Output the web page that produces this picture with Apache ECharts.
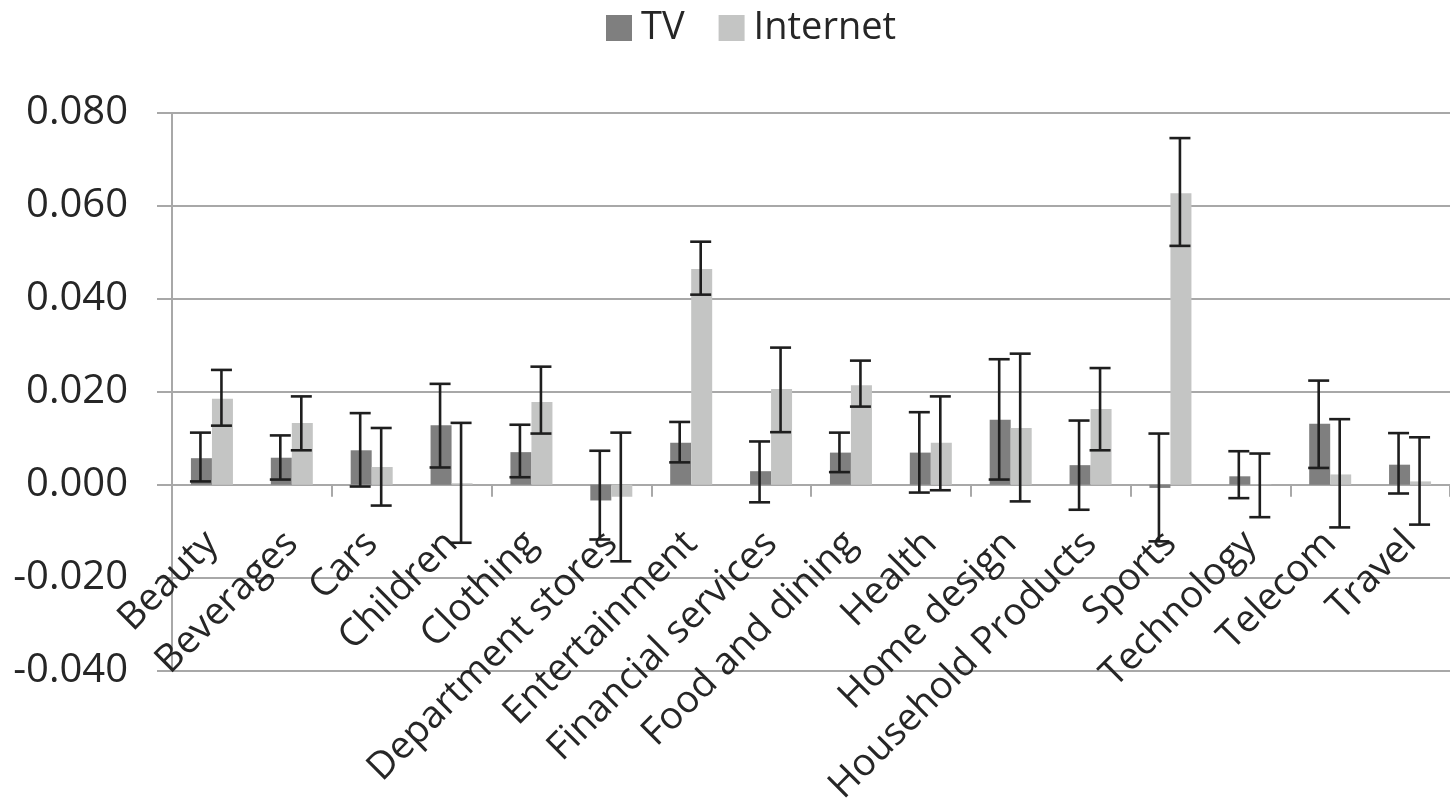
<!DOCTYPE html>
<html>
<head>
<meta charset="utf-8">
<script src="https://cdn.jsdelivr.net/npm/echarts@6/dist/echarts.min.js"></script>
<style>
html,body{margin:0;padding:0;background:#fff;}
#chart{width:1450px;height:801px;}
</style>
</head>
<body>
<div id="chart"></div>
<script>
const categories = ["Beauty","Beverages","Cars","Children","Clothing","Department stores","Entertainment","Financial services","Food and dining","Health","Home design","Household Products","Sports","Technology","Telecom","Travel"];
const tvValues   = [0.0057,0.0058,0.0074,0.0128,0.0070,-0.0034,0.0090,0.0029,0.0069,0.0069,0.0140,0.0042,-0.0007,0.0018,0.0131,0.0043];
const tvHigh     = [0.0112,0.0106,0.0154,0.0217,0.0129,0.0073,0.0135,0.0093,0.0112,0.0156,0.0270,0.0138,0.0110,0.0072,0.0224,0.0111];
const tvLow      = [0.0007,0.0011,-0.0004,0.0037,0.0016,-0.0118,0.0048,-0.0038,0.0027,-0.0017,0.0011,-0.0054,-0.0122,-0.0029,0.0036,-0.0019];
const netValues  = [0.0185,0.0133,0.0038,0.0003,0.0178,-0.0026,0.0464,0.0206,0.0214,0.0090,0.0122,0.0163,0.0627,0.0001,0.0022,0.0007];
const netHigh    = [0.0247,0.0190,0.0122,0.0133,0.0254,0.0112,0.0523,0.0295,0.0267,0.0190,0.0282,0.0251,0.0746,0.0067,0.0141,0.0102];
const netLow     = [0.0127,0.0074,-0.0045,-0.0125,0.0110,-0.0165,0.0409,0.0113,0.0168,-0.0012,-0.0036,0.0074,0.0514,-0.0070,-0.0092,-0.0086];
const yTicks     = {min:-0.04, max:0.08, interval:0.02};

const FONT = "'Open Sans', 'Noto Sans', sans-serif";
const TEXT = '#262626';
const GRIDC = '#a8a8a8';
const BARW = 21;
const GRID = {left: 172, right: 0, top: 113, bottom: 130.5};
const H = 801;

function errSeries(name, high, low, side) {
  return {
    type: 'custom',
    name: name + ' err',
    z: 10,
    silent: true,
    data: categories.map((c, i) => [i, low[i], high[i]]),
    encode: {x: 0, y: [1, 2]},
    renderItem: function (params, api) {
      const i = api.value(0);
      const lo = api.coord([i, api.value(1)]);
      const hi = api.coord([i, api.value(2)]);
      const x = lo[0] + side * BARW / 2 - 1;
      const half = BARW / 2;
      const st = {stroke: '#1e1e1e', lineWidth: 2.6};
      return {
        type: 'group',
        children: [
          {type: 'line', shape: {x1: x, y1: hi[1], x2: x, y2: lo[1]}, style: st},
          {type: 'line', shape: {x1: x - half, y1: hi[1], x2: x + half, y2: hi[1]}, style: st},
          {type: 'line', shape: {x1: x - half, y1: lo[1], x2: x + half, y2: lo[1]}, style: st}
        ]
      };
    }
  };
}

// distance from grid bottom up to the zero line, from the y scale
const plotH = H - GRID.top - GRID.bottom;
const zeroOffset = plotH * (0 - yTicks.min) / (yTicks.max - yTicks.min);

const chart = echarts.init(document.getElementById('chart'), null, {renderer: 'canvas'});
chart.setOption({
  animation: false,
  backgroundColor: '#ffffff',
  textStyle: {fontFamily: FONT},
  legend: {
    left: 601, top: 4,
    itemWidth: 26, itemHeight: 26, itemGap: 34,
    icon: 'rect',
    data: ['TV', 'Internet'],
    textStyle: {fontFamily: FONT, fontSize: 38, color: TEXT, padding: [0, 0, 0, 4]}
  },
  grid: Object.assign({containLabel: false, outerBoundsMode: 'none'}, GRID),
  xAxis: [{
    type: 'category',
    data: categories,
    axisLine: {onZero: true, lineStyle: {color: GRIDC, width: 2}},
    axisTick: {show: true, length: 12, lineStyle: {color: GRIDC, width: 2}},
    axisLabel: {show: false},
    splitLine: {show: false}
  }, {
    type: 'category',
    data: categories,
    position: 'bottom',
    offset: -zeroOffset,
    axisLine: {show: false, onZero: false},
    axisTick: {show: false},
    axisLabel: {interval: 0, rotate: 45, margin: 53, fontFamily: FONT, fontSize: 38, color: TEXT, hideOverlap: false},
    splitLine: {show: false}
  }],
  yAxis: {
    type: 'value',
    min: yTicks.min, max: yTicks.max, interval: yTicks.interval,
    axisLine: {show: true, lineStyle: {color: GRIDC, width: 2}},
    axisTick: {show: true, length: 15, lineStyle: {color: GRIDC, width: 2}},
    axisLabel: {margin: 44, fontFamily: FONT, fontSize: 40, color: TEXT, formatter: v => v.toFixed(3)},
    splitLine: {show: true, lineStyle: {color: GRIDC, width: 2}}
  },
  series: [
    {name: 'TV', type: 'bar', data: tvValues, barWidth: BARW, barGap: '0%', itemStyle: {color: '#7f7f7f'}},
    {name: 'Internet', type: 'bar', data: netValues, barWidth: BARW, barGap: '0%', itemStyle: {color: '#c4c5c4'}},
    errSeries('TV', tvHigh, tvLow, -1),
    errSeries('Internet', netHigh, netLow, 1)
  ]
});
</script>
</body>
</html>
